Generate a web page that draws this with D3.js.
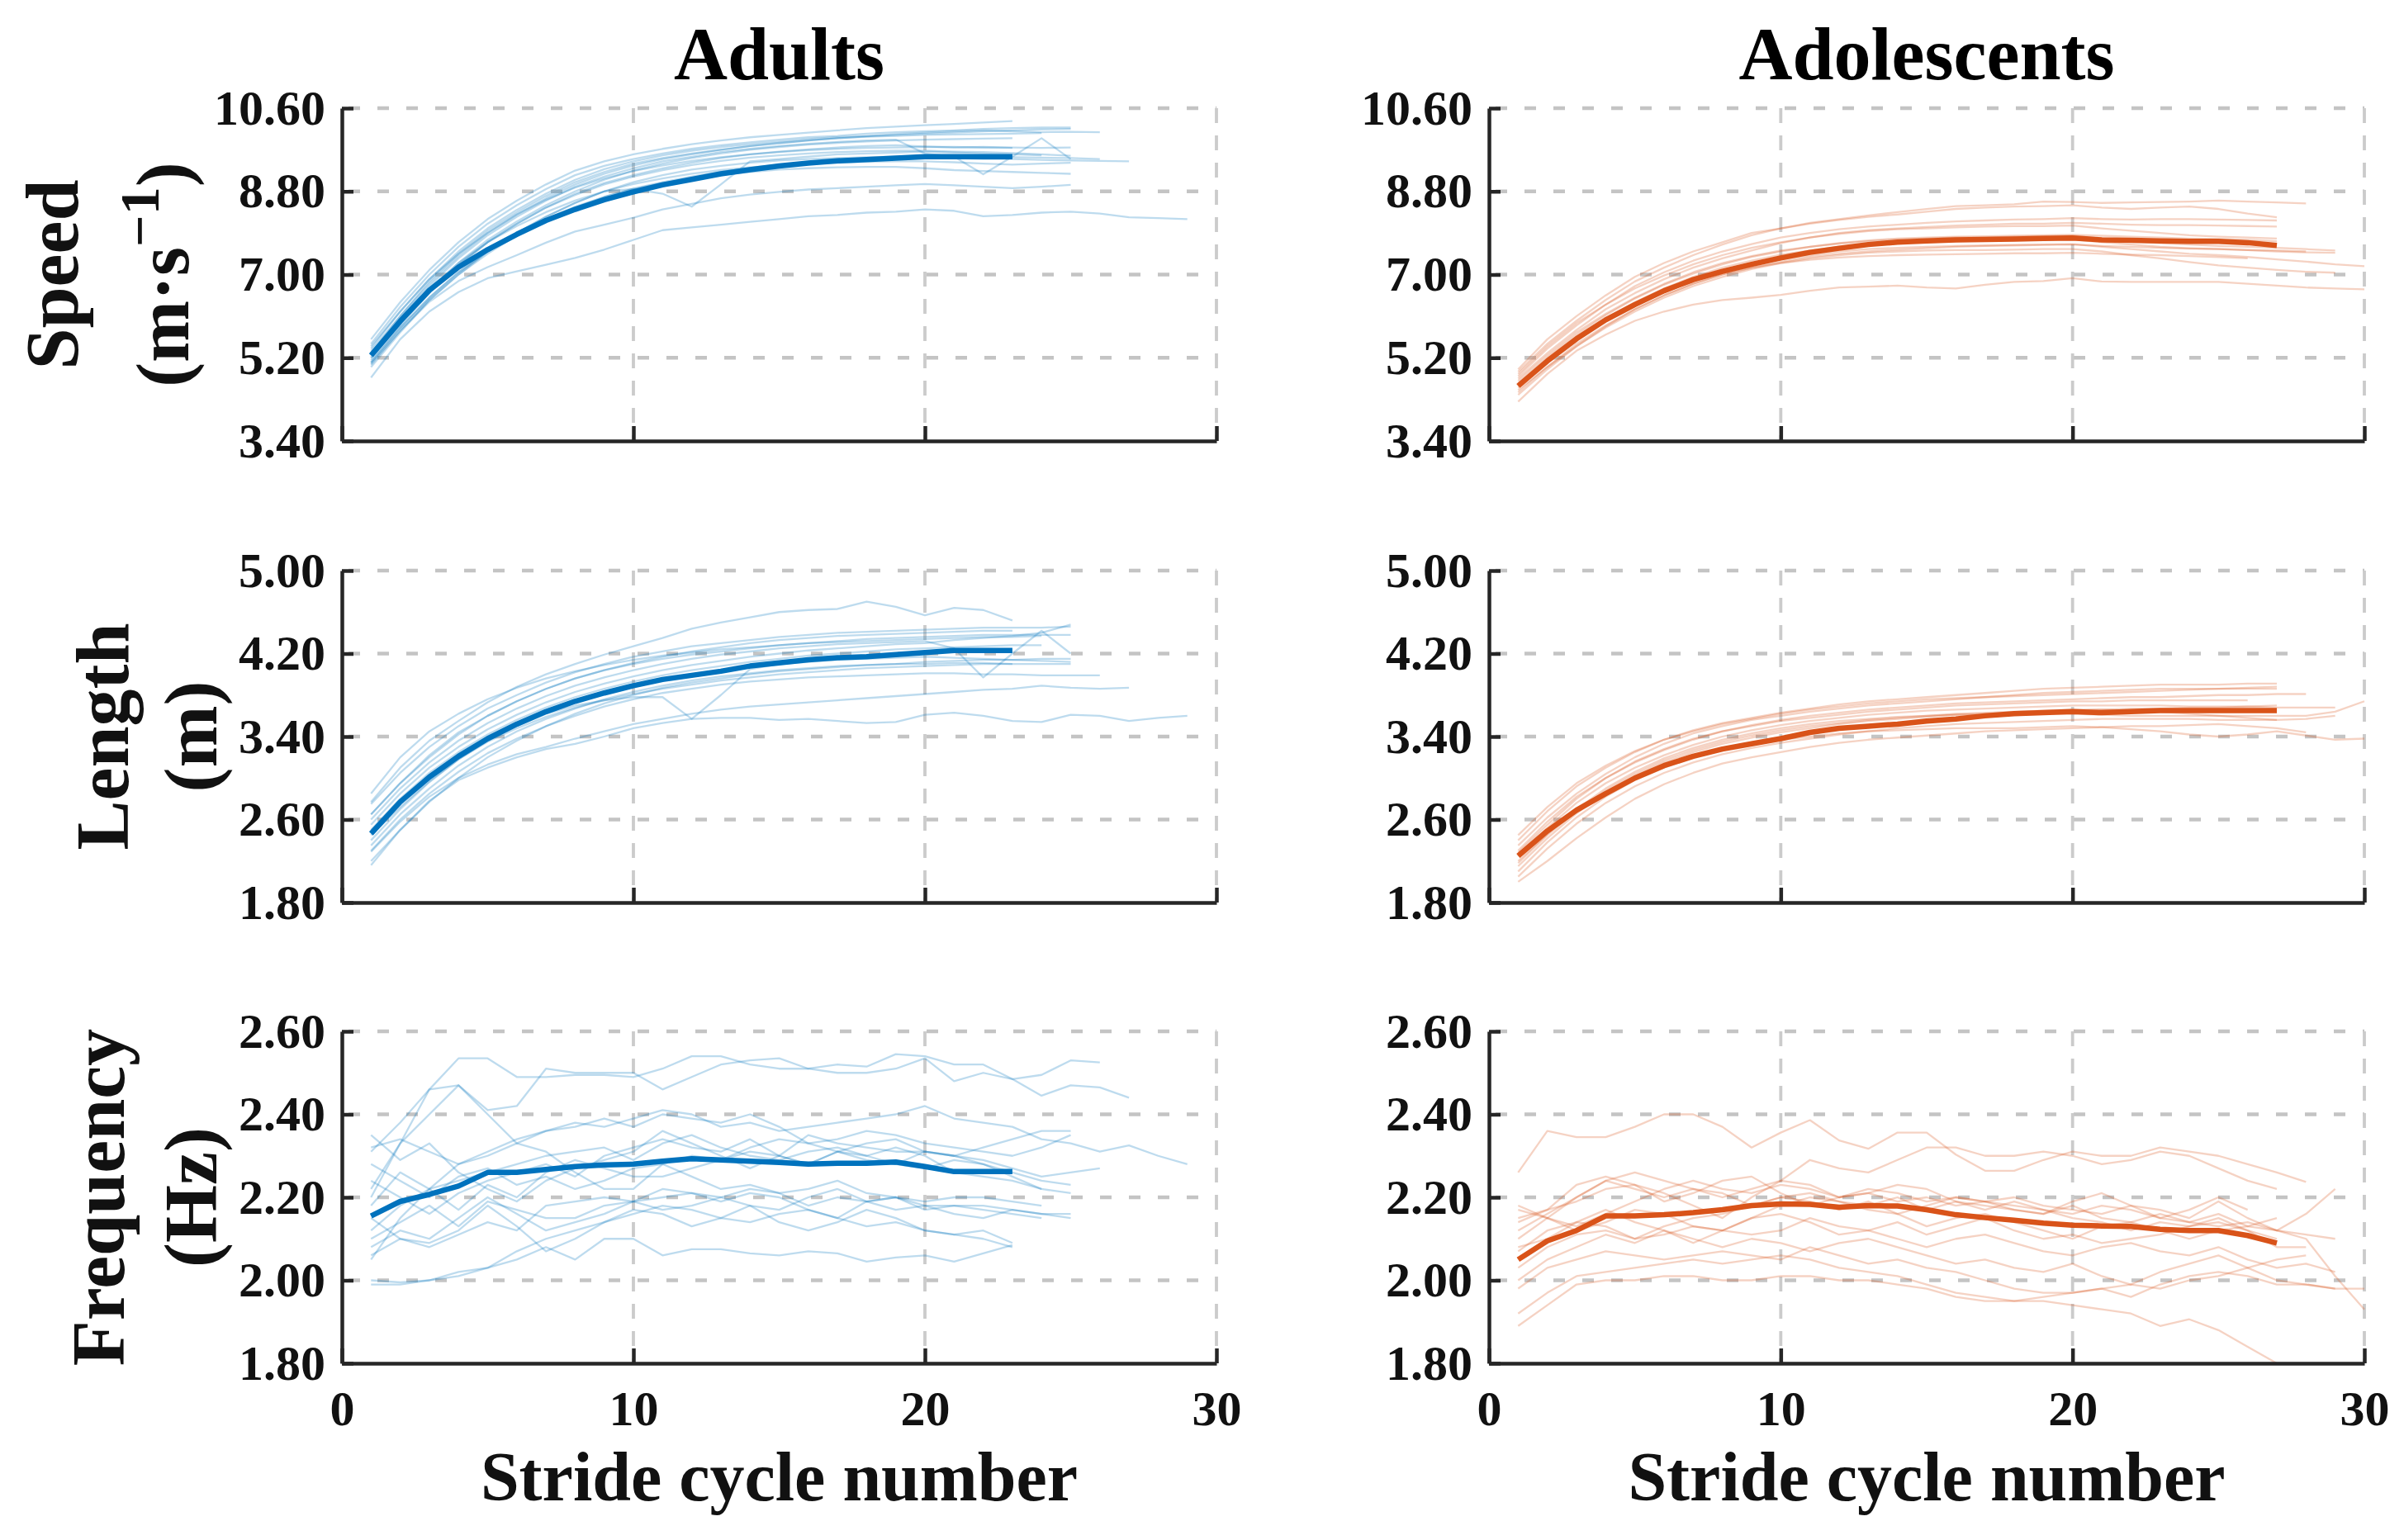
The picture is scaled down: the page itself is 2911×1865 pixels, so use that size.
<!DOCTYPE html>
<html><head><meta charset="utf-8">
<script src="https://cdn.jsdelivr.net/npm/d3@7"></script>
<style>
body{margin:0;background:#fff}
svg{display:block}
text{font-family:"Liberation Serif","Times New Roman",serif;font-weight:bold}
</style>
</head><body>
<svg id="chart" width="2911" height="1865"></svg>
<script>
// ---------------- DATA ----------------
const groups = ["Adults", "Adolescents"];
const strideTicks = [0, 10, 20, 30];
const speedTicks = [3.4, 5.2, 7.0, 8.8, 10.6];
const lengthTicks = [1.8, 2.6, 3.4, 4.2, 5.0];
const freqTicks = [1.8, 2.0, 2.2, 2.4, 2.6];
const xTitle = "Stride cycle number";

// values per stride cycle, starting at stride 1
const adultSpeedMean = [5.25,5.99,6.66,7.16,7.54,7.87,8.17,8.41,8.62,8.79,8.94,9.06,9.18,9.27,9.35,9.41,9.46,9.49,9.52,9.55,9.55,9.55,9.55];
const adultSpeedRuns = [
 [5.6,6.4,7.1,7.7,8.2,8.6,8.95,9.25,9.45,9.6,9.72,9.82,9.9,9.97,10.02,10.07,10.12,10.17,10.2,10.23,10.26,10.29,10.32],
 [5.5,6.3,7.0,7.6,8.1,8.5,8.85,9.15,9.35,9.5,9.62,9.72,9.8,9.86,9.92,9.97,10.0,10.05,10.08,10.1,10.12,10.15,10.17,10.18,10.18],
 [5.4,6.2,6.9,7.5,8.0,8.4,8.75,9.05,9.28,9.45,9.58,9.68,9.76,9.82,9.88,9.93,9.97,10.0,10.04,10.07,10.1,10.12,10.1,10.08,10.09,10.08],
 [5.35,6.1,6.85,7.45,7.95,8.35,8.7,9.0,9.22,9.4,9.52,9.62,9.7,9.78,9.84,9.9,9.95,9.99,10.02,10.05,10.07,10.1,10.12,10.14,10.15],
 [5.3,6.05,6.75,7.35,7.85,8.25,8.6,8.9,9.12,9.3,9.45,9.55,9.65,9.72,9.78,9.83,9.87,9.9,9.92,9.62,9.55,9.17,9.55,9.95,9.5],
 [5.2,5.95,6.65,7.25,7.75,8.15,8.5,8.8,9.05,9.25,9.4,9.52,9.62,9.7,9.76,9.81,9.85,9.88,9.9,9.92,9.93,9.94,9.95],
 [5.15,5.9,6.6,7.2,7.7,8.1,8.45,8.75,8.98,9.15,9.3,9.42,9.52,9.6,9.66,9.71,9.75,9.78,9.8,9.77,9.75,9.76,9.75,9.74,9.75],
 [5.1,5.85,6.5,7.05,7.5,7.9,8.25,8.55,8.8,9.0,9.15,9.27,9.35,9.42,9.47,9.5,9.52,9.54,9.55,9.55,9.52,9.5,9.5,9.48,9.47,9.46,9.45],
 [5.0,5.75,6.45,7.0,7.5,7.9,8.25,8.55,8.8,8.85,8.75,8.47,8.95,9.45,9.5,9.55,9.6,9.62,9.64,9.66,9.64,9.62,9.6,9.58],
 [5.25,6.0,6.7,7.25,7.7,8.05,8.35,8.6,8.8,8.96,9.08,9.18,9.26,9.32,9.37,9.4,9.42,9.44,9.45,9.45,9.43,9.4,9.38,9.4,9.42],
 [5.1,5.85,6.5,7.05,7.5,7.88,8.2,8.47,8.68,8.85,8.98,9.08,9.16,9.22,9.27,9.3,9.32,9.33,9.33,9.3,9.26,9.24,9.22,9.2,9.18],
 [5.07,5.78,6.41,6.86,7.16,7.42,7.69,7.93,8.08,8.23,8.41,8.53,8.65,8.73,8.79,8.84,8.87,8.9,8.93,8.96,8.93,8.9,8.87,8.9,8.94],
 [4.77,5.6,6.2,6.62,6.92,7.07,7.21,7.36,7.54,7.75,7.96,8.02,8.08,8.14,8.2,8.26,8.29,8.34,8.36,8.41,8.38,8.26,8.29,8.34,8.36,8.32,8.24,8.22,8.2],
 [5.3,6.1,6.8,7.4,7.9,8.3,8.65,8.95,9.18,9.36,9.5,9.6,9.7,9.78,9.85,9.9,9.95,9.98,10.0,10.02,10.03,10.04,10.05,10.06],
 [5.2,5.95,6.65,7.2,7.7,8.1,8.45,8.72,8.95,9.12,9.26,9.37,9.46,9.53,9.58,9.62,9.65,9.67,9.68,9.68,9.66,9.65,9.63,9.6,9.57],
 [5.45,6.2,6.9,7.45,7.9,8.3,8.62,8.88,9.08,9.24,9.36,9.46,9.54,9.6,9.65,9.69,9.72,9.74,9.75,9.76,9.76,9.75,9.74],
 [5.05,5.8,6.45,7.0,7.45,7.85,8.18,8.45,8.68,8.86,9.0,9.12,9.22,9.3,9.37,9.42,9.46,9.5,9.52,9.54,9.55,9.55,9.54,9.53,9.52,9.5]
];

const teenSpeedMean = [4.59,5.13,5.61,6.02,6.35,6.65,6.89,7.07,7.22,7.36,7.48,7.57,7.65,7.70,7.73,7.75,7.76,7.77,7.78,7.79,7.75,7.74,7.73,7.72,7.72,7.69,7.63];
const teenSpeedRuns = [
 [4.95,5.6,6.1,6.55,6.95,7.25,7.5,7.7,7.9,8.0,8.12,8.2,8.28,8.35,8.42,8.48,8.5,8.52,8.58,8.57,8.55,8.56,8.57,8.58,8.6,8.58,8.56,8.54],
 [4.9,5.5,6.0,6.45,6.85,7.15,7.42,7.65,7.85,8.0,8.1,8.18,8.25,8.3,8.36,8.42,8.45,8.47,8.48,8.5,8.45,8.42,8.45,8.47,8.42,8.32,8.24],
 [4.8,5.4,5.9,6.35,6.75,7.05,7.3,7.5,7.66,7.8,7.9,7.98,8.04,8.08,8.12,8.15,8.17,8.19,8.2,8.22,8.2,8.19,8.2,8.2,8.19,8.18,8.17],
 [4.75,5.3,5.8,6.25,6.6,6.9,7.15,7.35,7.52,7.68,7.8,7.9,7.96,8.0,8.03,8.06,8.08,8.1,8.1,8.12,8.1,8.08,8.07,8.07,8.06,8.05,8.04],
 [4.7,5.25,5.75,6.15,6.5,6.8,7.05,7.25,7.4,7.52,7.6,7.67,7.72,7.76,7.78,7.8,7.8,7.82,7.83,7.84,7.78,7.72,7.68,7.65,7.62,7.6,7.58,7.55,7.52],
 [4.6,5.15,5.65,6.05,6.4,6.7,6.95,7.15,7.3,7.43,7.52,7.6,7.65,7.68,7.7,7.72,7.73,7.74,7.75,7.76,7.7,7.65,7.6,7.57,7.55,7.53,7.5,7.48,7.47],
 [4.55,5.1,5.6,6.0,6.35,6.62,6.85,7.05,7.2,7.33,7.42,7.5,7.55,7.58,7.6,7.62,7.63,7.64,7.65,7.66,7.6,7.55,7.5,7.45,7.42,7.38,7.33,7.28,7.22,7.18],
 [4.5,5.0,5.45,5.85,6.2,6.5,6.75,6.95,7.12,7.25,7.35,7.42,7.47,7.5,7.52,7.53,7.53,7.54,7.55,7.55,7.5,7.42,7.35,7.27,7.2,7.15,7.1,7.06,7.04],
 [4.25,4.85,5.35,5.7,6.0,6.2,6.35,6.45,6.5,6.56,6.65,6.72,6.74,6.76,6.72,6.7,6.78,6.84,6.86,6.92,6.85,6.84,6.84,6.84,6.84,6.8,6.76,6.72,6.7,6.68],
 [4.65,5.2,5.7,6.12,6.48,6.78,7.02,7.22,7.38,7.5,7.6,7.68,7.74,7.78,7.8,7.82,7.83,7.84,7.85,7.86,7.84,7.82,7.8,7.78,7.77,7.75,7.72],
 [4.45,5.0,5.5,5.9,6.25,6.55,6.8,7.0,7.15,7.28,7.38,7.45,7.5,7.54,7.57,7.6,7.62,7.63,7.64,7.65,7.62,7.6,7.58,7.56,7.55,7.53,7.52,7.5],
 [4.85,5.45,5.95,6.35,6.7,6.98,7.22,7.42,7.58,7.7,7.8,7.88,7.94,7.98,8.0,8.02,8.04,8.05,8.05,8.06,8.0,7.95,7.9,7.85,7.82,7.8,7.78],
 [4.4,4.95,5.45,5.88,6.25,6.55,6.8,7.0,7.15,7.25,7.32,7.37,7.4,7.42,7.43,7.44,7.45,7.46,7.46,7.47,7.45,7.43,7.42,7.4,7.38,7.35]
];

const adultLengthMean = [2.465,2.77,3.01,3.21,3.38,3.52,3.64,3.74,3.82,3.89,3.95,3.99,4.03,4.08,4.11,4.14,4.16,4.17,4.19,4.21,4.23,4.23,4.23];
const adultLengthRuns = [
 [2.77,3.1,3.36,3.55,3.73,3.88,4.0,4.1,4.19,4.27,4.35,4.44,4.5,4.55,4.6,4.62,4.63,4.7,4.65,4.57,4.64,4.62,4.52],
 [2.75,3.05,3.3,3.5,3.67,3.8,3.92,4.02,4.1,4.17,4.22,4.27,4.3,4.33,4.36,4.38,4.4,4.41,4.42,4.43,4.44,4.45,4.45,4.45,4.46],
 [2.65,2.95,3.2,3.42,3.6,3.74,3.86,3.96,4.04,4.11,4.17,4.22,4.26,4.3,4.33,4.35,4.37,4.38,4.39,4.4,4.41,4.42,4.42],
 [2.6,2.9,3.15,3.36,3.53,3.67,3.79,3.89,3.97,4.04,4.1,4.15,4.19,4.22,4.25,4.27,4.29,4.3,4.31,4.32,4.25,3.97,4.2,4.42,4.2],
 [2.55,2.85,3.1,3.3,3.47,3.61,3.73,3.83,3.91,3.98,4.04,4.09,4.13,4.17,4.2,4.23,4.25,4.27,4.29,4.3,4.33,4.35,4.37,4.4,4.48],
 [2.5,2.8,3.05,3.25,3.42,3.56,3.68,3.78,3.86,3.93,3.99,4.04,4.08,4.12,4.15,4.18,4.2,4.22,4.24,4.25,4.26,4.27,4.28,4.28],
 [2.4,2.7,2.96,3.18,3.36,3.5,3.62,3.7,3.75,3.78,3.78,3.57,3.8,4.05,4.1,4.12,4.14,4.15,4.16,4.17,4.16,4.15,4.14,4.13,4.12],
 [2.35,2.65,2.9,3.12,3.3,3.45,3.57,3.67,3.76,3.83,3.89,3.94,3.98,4.01,4.04,4.06,4.08,4.09,4.1,4.1,4.11,4.11,4.1,4.1,4.1],
 [2.3,2.6,2.85,3.06,3.24,3.38,3.5,3.6,3.69,3.76,3.82,3.86,3.9,3.93,3.95,3.97,3.98,3.99,4.0,4.01,4.01,4.0,4.0,3.99,3.99,3.99],
 [2.29,2.58,2.82,3.0,3.13,3.23,3.3,3.38,3.45,3.52,3.57,3.62,3.66,3.69,3.71,3.73,3.75,3.77,3.79,3.81,3.83,3.85,3.86,3.89,3.87,3.86,3.87],
 [2.16,2.5,2.78,2.98,3.1,3.2,3.28,3.33,3.4,3.48,3.53,3.57,3.58,3.58,3.56,3.57,3.55,3.53,3.54,3.61,3.63,3.6,3.55,3.54,3.61,3.6,3.55,3.58,3.6],
 [2.2,2.5,2.77,3.0,3.2,3.36,3.5,3.62,3.72,3.8,3.87,3.92,3.96,4.0,4.03,4.05,4.07,4.09,4.1,4.12,4.13,4.14,4.14,4.15,4.15],
 [2.85,3.2,3.45,3.62,3.76,3.87,3.96,4.03,4.09,4.14,4.18,4.21,4.24,4.26,4.28,4.3,4.31,4.32,4.33,4.34,4.35,4.36,4.36,4.37],
 [2.45,2.72,2.97,3.18,3.35,3.48,3.59,3.68,3.75,3.81,3.86,3.9,3.94,3.97,4.0,4.02,4.04,4.06,4.07,4.08,4.09,4.1,4.1],
 [2.65,2.95,3.22,3.44,3.6,3.74,3.86,3.96,4.04,4.1,4.15,4.19,4.22,4.25,4.28,4.3,4.32,4.34,4.35,4.36,4.37,4.38,4.38,4.38,4.38]
];

const teenLengthMean = [2.25,2.49,2.69,2.85,3.0,3.12,3.21,3.28,3.33,3.38,3.44,3.48,3.50,3.52,3.55,3.57,3.60,3.62,3.63,3.64,3.63,3.64,3.65,3.65,3.65,3.65,3.65];
const teenLengthRuns = [
 [2.4,2.68,2.92,3.1,3.25,3.37,3.46,3.53,3.58,3.63,3.67,3.71,3.74,3.76,3.78,3.8,3.82,3.84,3.86,3.87,3.88,3.89,3.9,3.9,3.9,3.91,3.91],
 [2.35,2.62,2.85,3.04,3.2,3.33,3.43,3.5,3.56,3.6,3.64,3.67,3.7,3.72,3.74,3.76,3.78,3.8,3.82,3.83,3.84,3.85,3.86,3.86,3.86,3.86,3.86],
 [2.3,2.58,2.82,3.0,3.15,3.27,3.37,3.45,3.51,3.56,3.6,3.63,3.66,3.68,3.7,3.72,3.73,3.74,3.75,3.76,3.77,3.78,3.78,3.79,3.8,3.8,3.81,3.81],
 [2.2,2.46,2.7,2.9,3.06,3.19,3.29,3.37,3.43,3.48,3.52,3.55,3.57,3.59,3.6,3.61,3.61,3.62,3.62,3.62,3.61,3.6,3.6,3.6,3.6,3.6,3.6,3.6,3.64,3.74],
 [2.25,2.52,2.76,2.95,3.1,3.22,3.32,3.4,3.46,3.51,3.55,3.58,3.61,3.63,3.65,3.66,3.67,3.68,3.69,3.7,3.7,3.7,3.7,3.69,3.69,3.69,3.68,3.68,3.68],
 [2.1,2.38,2.62,2.82,2.98,3.1,3.2,3.27,3.32,3.37,3.4,3.43,3.45,3.46,3.47,3.48,3.48,3.48,3.49,3.5,3.49,3.47,3.45,3.42,3.4,3.42,3.45,3.41,3.37,3.38],
 [2.0,2.2,2.42,2.62,2.8,2.94,3.05,3.14,3.2,3.25,3.3,3.34,3.37,3.39,3.41,3.43,3.45,3.46,3.47,3.48,3.49,3.5,3.5,3.51,3.52,3.5,3.48,3.44],
 [2.15,2.42,2.66,2.86,3.02,3.15,3.25,3.33,3.39,3.44,3.48,3.52,3.55,3.57,3.59,3.61,3.62,3.63,3.64,3.65,3.66,3.67,3.67,3.68,3.68,3.69,3.7],
 [2.05,2.32,2.56,2.76,2.92,3.05,3.15,3.23,3.29,3.34,3.38,3.42,3.45,3.48,3.5,3.52,3.53,3.54,3.55,3.56,3.57,3.57,3.57,3.57,3.56,3.56,3.56,3.57,3.6],
 [2.45,2.72,2.95,3.12,3.26,3.37,3.45,3.52,3.57,3.62,3.66,3.69,3.72,3.74,3.76,3.77,3.78,3.79,3.8,3.81,3.82,3.83,3.84,3.85,3.86,3.87,3.88],
 [2.28,2.55,2.8,3.0,3.16,3.28,3.38,3.45,3.5,3.55,3.58,3.61,3.64,3.66,3.68,3.7,3.71,3.72,3.73,3.74,3.74,3.75,3.75,3.75,3.75,3.75],
 [2.18,2.45,2.68,2.88,3.04,3.17,3.27,3.35,3.41,3.46,3.5,3.53,3.56,3.58,3.6,3.62,3.63,3.64,3.65,3.66,3.66,3.65,3.64,3.62,3.6,3.58,3.56]
];

const adultFreqMean = [2.155,2.19,2.207,2.227,2.26,2.26,2.267,2.274,2.278,2.28,2.287,2.293,2.29,2.287,2.284,2.28,2.282,2.282,2.285,2.274,2.262,2.262,2.262];
const adultFreqRuns = [
 [2.20,2.33,2.46,2.535,2.535,2.49,2.49,2.495,2.495,2.49,2.51,2.54,2.54,2.52,2.51,2.51,2.52,2.515,2.545,2.54,2.52,2.52,2.485,2.495,2.53,2.525],
 [2.31,2.38,2.46,2.47,2.41,2.42,2.51,2.50,2.50,2.50,2.46,2.49,2.52,2.53,2.535,2.51,2.50,2.50,2.51,2.535,2.48,2.50,2.485,2.445,2.47,2.465,2.44],
 [2.05,2.15,2.22,2.28,2.30,2.33,2.36,2.38,2.37,2.39,2.41,2.40,2.37,2.38,2.36,2.37,2.38,2.39,2.40,2.42,2.39,2.38,2.37,2.34,2.33,2.31,2.325,2.30,2.28],
 [2.22,2.33,2.40,2.47,2.40,2.33,2.31,2.26,2.22,2.22,2.28,2.30,2.29,2.32,2.34,2.33,2.31,2.30,2.32,2.30,2.26,2.25,2.24,2.22,2.21],
 [2.00,1.995,2.00,2.02,2.03,2.05,2.08,2.05,2.10,2.10,2.06,2.075,2.075,2.065,2.06,2.07,2.065,2.045,2.055,2.06,2.045,2.065,2.085],
 [2.35,2.29,2.33,2.26,2.22,2.19,2.24,2.27,2.29,2.31,2.36,2.33,2.30,2.27,2.30,2.35,2.33,2.32,2.31,2.31,2.30,2.32,2.34,2.36,2.36],
 [2.32,2.34,2.31,2.28,2.31,2.34,2.36,2.37,2.39,2.37,2.40,2.39,2.38,2.40,2.37,2.33,2.34,2.36,2.35,2.33,2.32,2.31,2.30,2.32,2.35],
 [2.24,2.20,2.16,2.21,2.24,2.26,2.28,2.25,2.30,2.32,2.34,2.32,2.31,2.34,2.30,2.28,2.31,2.33,2.34,2.31,2.30,2.28,2.25,2.22],
 [2.12,2.18,2.22,2.24,2.26,2.28,2.30,2.31,2.32,2.29,2.33,2.35,2.32,2.30,2.29,2.31,2.32,2.30,2.28,2.27,2.29,2.28,2.26,2.24,2.23],
 [2.18,2.26,2.22,2.17,2.23,2.20,2.26,2.29,2.27,2.25,2.25,2.27,2.29,2.31,2.30,2.28,2.31,2.29,2.28,2.31,2.30,2.29,2.27,2.25,2.26,2.27],
 [2.10,2.14,2.18,2.13,2.19,2.17,2.15,2.15,2.18,2.19,2.17,2.18,2.20,2.22,2.21,2.18,2.20,2.19,2.20,2.17,2.18,2.18,2.17,2.16,2.15],
 [2.08,2.12,2.10,2.15,2.20,2.16,2.12,2.14,2.16,2.19,2.22,2.21,2.19,2.21,2.20,2.17,2.15,2.19,2.20,2.18,2.18,2.17,2.16,2.15],
 [2.15,2.10,2.09,2.12,2.18,2.13,2.07,2.10,2.14,2.17,2.16,2.13,2.15,2.18,2.14,2.12,2.14,2.17,2.15,2.12,2.11,2.12,2.09],
 [2.06,2.10,2.08,2.11,2.14,2.12,2.18,2.19,2.20,2.19,2.20,2.21,2.20,2.18,2.17,2.20,2.22,2.19,2.17,2.18,2.16,2.15,2.17,2.16,2.16],
 [1.99,1.99,2.00,2.01,2.03,2.07,2.10,2.12,2.14,2.16,2.18,2.17,2.15,2.14,2.16,2.17,2.15,2.13,2.14,2.12,2.11,2.10,2.08],
 [2.28,2.24,2.20,2.25,2.27,2.23,2.25,2.22,2.24,2.27,2.28,2.25,2.22,2.23,2.21,2.22,2.24,2.21,2.20,2.19,2.20,2.20,2.19,2.18]
];

const teenFreqMean = [2.05,2.095,2.12,2.155,2.155,2.158,2.163,2.17,2.18,2.184,2.183,2.176,2.18,2.179,2.17,2.158,2.151,2.145,2.138,2.133,2.131,2.13,2.123,2.12,2.12,2.108,2.09];
const teenFreqRuns = [
 [2.26,2.36,2.345,2.345,2.37,2.40,2.40,2.37,2.32,2.356,2.386,2.337,2.317,2.356,2.356,2.303,2.264,2.264,2.29,2.31,2.30,2.30,2.32,2.31,2.30,2.28,2.26,2.237],
 [2.10,2.15,2.20,2.24,2.26,2.24,2.22,2.20,2.22,2.24,2.29,2.27,2.26,2.29,2.32,2.32,2.30,2.30,2.31,2.30,2.28,2.29,2.31,2.30,2.27,2.24,2.22],
 [2.15,2.17,2.19,2.22,2.23,2.21,2.18,2.15,2.20,2.24,2.23,2.20,2.22,2.21,2.19,2.20,2.19,2.18,2.17,2.16,2.18,2.17,2.15,2.14,2.16,2.13,2.12,2.16,2.22],
 [2.17,2.15,2.13,2.16,2.19,2.22,2.24,2.22,2.21,2.23,2.22,2.20,2.21,2.19,2.20,2.18,2.19,2.20,2.18,2.17,2.16,2.18,2.17,2.15,2.19,2.15,2.12,2.11,2.10],
 [2.12,2.16,2.20,2.24,2.22,2.20,2.22,2.21,2.18,2.20,2.21,2.19,2.18,2.20,2.17,2.19,2.18,2.17,2.16,2.18,2.15,2.14,2.16,2.14,2.13,2.14,2.12,2.10,2.01,1.93],
 [2.14,2.17,2.23,2.25,2.23,2.19,2.21,2.24,2.25,2.21,2.18,2.20,2.21,2.23,2.22,2.19,2.17,2.19,2.17,2.15,2.14,2.12,2.14,2.13,2.15,2.12,2.08,2.08],
 [2.07,2.12,2.14,2.13,2.10,2.13,2.15,2.16,2.18,2.20,2.19,2.17,2.19,2.16,2.13,2.15,2.16,2.14,2.12,2.10,2.13,2.14,2.12,2.10,2.12,2.13,2.15],
 [2.03,2.08,2.11,2.12,2.10,2.11,2.13,2.12,2.11,2.12,2.15,2.13,2.12,2.10,2.08,2.10,2.11,2.09,2.07,2.06,2.08,2.09,2.07,2.06,2.08,2.05,2.03,2.04,2.02],
 [2.00,2.05,2.08,2.11,2.09,2.12,2.10,2.08,2.10,2.09,2.07,2.09,2.10,2.08,2.06,2.04,2.05,2.03,2.02,2.04,2.01,1.99,2.02,2.04,2.06,2.03,2.00,1.99,1.98],
 [1.98,2.03,2.05,2.07,2.06,2.05,2.06,2.07,2.06,2.05,2.08,2.06,2.04,2.05,2.03,2.02,2.00,1.98,1.97,1.97,1.98,1.96,1.99,2.01,2.02,2.01,1.99,1.99,1.98,1.98],
 [1.89,1.94,1.99,2.00,2.00,2.01,2.01,2.00,2.00,2.01,2.01,2.00,2.00,1.99,1.98,1.96,1.95,1.95,1.95,1.94,1.93,1.92,1.89,1.906,1.88,1.84,1.80],
 [1.92,1.97,2.01,2.02,2.03,2.04,2.05,2.04,2.05,2.06,2.05,2.03,2.02,2.01,1.99,1.97,1.96,1.95,1.96,1.97,1.98,1.99,1.98,2.00,2.01,2.03,2.05,2.06],
 [2.08,2.10,2.14,2.17,2.14,2.12,2.09,2.12,2.15,2.16,2.14,2.11,2.12,2.14,2.11,2.13,2.15,2.12,2.10,2.11,2.09,2.10,2.11,2.13,2.14,2.12,2.10],
 [2.18,2.15,2.12,2.14,2.17,2.16,2.13,2.12,2.15,2.18,2.20,2.19,2.17,2.16,2.18,2.20,2.19,2.17,2.16,2.19,2.21,2.18,2.15,2.17,2.20,2.17]
];

// ---------------- LAYOUT ----------------
const svg = d3.select("#chart");
const FONT = '"Liberation Serif","Times New Roman",serif';
const colLayout = [
  {x0: 414, x1: 1473, mean: "#0072BD", thin: "#0072BD"},
  {x0: 1803, x1: 2863, mean: "#D95319", thin: "#D95319"}
];
const rowLayout = [
  {top: 131, bottom: 534, ticks: speedTicks, data: [[adultSpeedMean, adultSpeedRuns],[teenSpeedMean, teenSpeedRuns]]},
  {top: 691, bottom: 1093, ticks: lengthTicks, data: [[adultLengthMean, adultLengthRuns],[teenLengthMean, teenLengthRuns]]},
  {top: 1249, bottom: 1651, ticks: freqTicks, data: [[adultFreqMean, adultFreqRuns],[teenFreqMean, teenFreqRuns]]}
];

rowLayout.forEach((row, ri) => {
  colLayout.forEach((col, ci) => {
    const x = d3.scaleLinear().domain([0, 30]).range([col.x0, col.x1]);
    const y = d3.scaleLinear().domain([row.ticks[0], row.ticks[row.ticks.length - 1]]).range([row.bottom, row.top]);
    const g = svg.append("g");

    // grid
    g.selectAll("line.hg").data(row.ticks.slice(1)).join("line")
      .attr("x1", col.x0).attr("x2", col.x1)
      .attr("y1", d => y(d)).attr("y2", d => y(d))
      .attr("stroke", "#c4c4c4").attr("stroke-width", 4.5).attr("stroke-dasharray", "14,21")
      .attr("stroke-dashoffset", -8);
    g.selectAll("line.vg").data(strideTicks.slice(1)).join("line")
      .attr("x1", d => x(d)).attr("x2", d => x(d))
      .attr("y1", row.top).attr("y2", row.bottom)
      .attr("stroke", "#cbcbcb").attr("stroke-width", 3.8).attr("stroke-dasharray", "18,15");

    const [mean, runs] = row.data[ci];
    const line = d3.line().x((d, i) => x(i + 1)).y(d => y(d));
    g.selectAll("path.run").data(runs).join("path")
      .attr("d", line).attr("fill", "none")
      .attr("stroke", col.thin).attr("stroke-opacity", 0.26).attr("stroke-width", 2.3)
      .attr("stroke-linejoin", "round");
    g.append("path").datum(mean).attr("d", line).attr("fill", "none")
      .attr("stroke", col.mean).attr("stroke-width", 6.5).attr("stroke-linejoin", "round");

    // axes
    const yAxis = d3.axisLeft(y).tickValues(row.ticks).tickFormat(d3.format(".2f"))
      .tickSizeInner(-14).tickSizeOuter(0).tickPadding(20);
    const ya = g.append("g").attr("transform", `translate(${col.x0},0)`).call(yAxis);
    const xAxis = d3.axisBottom(x).tickValues(strideTicks).tickFormat(ri === 2 ? d3.format("d") : () => "")
      .tickSizeInner(-18).tickSizeOuter(0).tickPadding(32);
    const xa = g.append("g").attr("transform", `translate(0,${row.bottom})`).call(xAxis);
    [ya, xa].forEach(a => {
      a.selectAll("path.domain").attr("stroke", "#262626").attr("stroke-width", 4.5);
      a.selectAll(".tick line").attr("stroke", "#262626").attr("stroke-width", 4.5);
      a.selectAll(".tick text").attr("font-family", FONT).attr("font-weight", "bold")
        .attr("font-size", 60).attr("fill", "#111");
    });
  });
});

// column titles and x titles
colLayout.forEach((col, ci) => {
  svg.append("text").attr("x", (col.x0 + col.x1) / 2).attr("y", 96)
    .attr("text-anchor", "middle").attr("font-size", 90).attr("fill", "#000").text(groups[ci]);
  svg.append("text").attr("x", (col.x0 + col.x1) / 2).attr("y", 1817)
    .attr("text-anchor", "middle").attr("font-size", 84).attr("fill", "#111").text(xTitle);
});

// y labels (two lines each)
function ylab(xPos, cy, parts) {
  const t = svg.append("text").attr("transform", `translate(${xPos},${cy}) rotate(-90)`)
    .attr("text-anchor", "middle").attr("font-size", 90).attr("fill", "#111");
  parts.forEach(p => {
    const s = t.append("tspan").text(p.t);
    if (p.size) s.attr("font-size", p.size);
    if (p.dy) s.attr("dy", p.dy);
  });
}
const cy = r => (rowLayout[r].top + rowLayout[r].bottom) / 2;
ylab(94, cy(0), [{t: "Speed"}]);
ylab(228, cy(0), [{t: "(m·s"}, {t: "\u22121", size: 68, dy: -36}, {t: ")", dy: 36}]);
ylab(155, cy(1), [{t: "Length"}]);
ylab(262, cy(1), [{t: "(m)"}]);
ylab(150, cy(2), [{t: "Frequency"}]);
ylab(262, cy(2), [{t: "(Hz)"}]);
</script>
</body></html>
